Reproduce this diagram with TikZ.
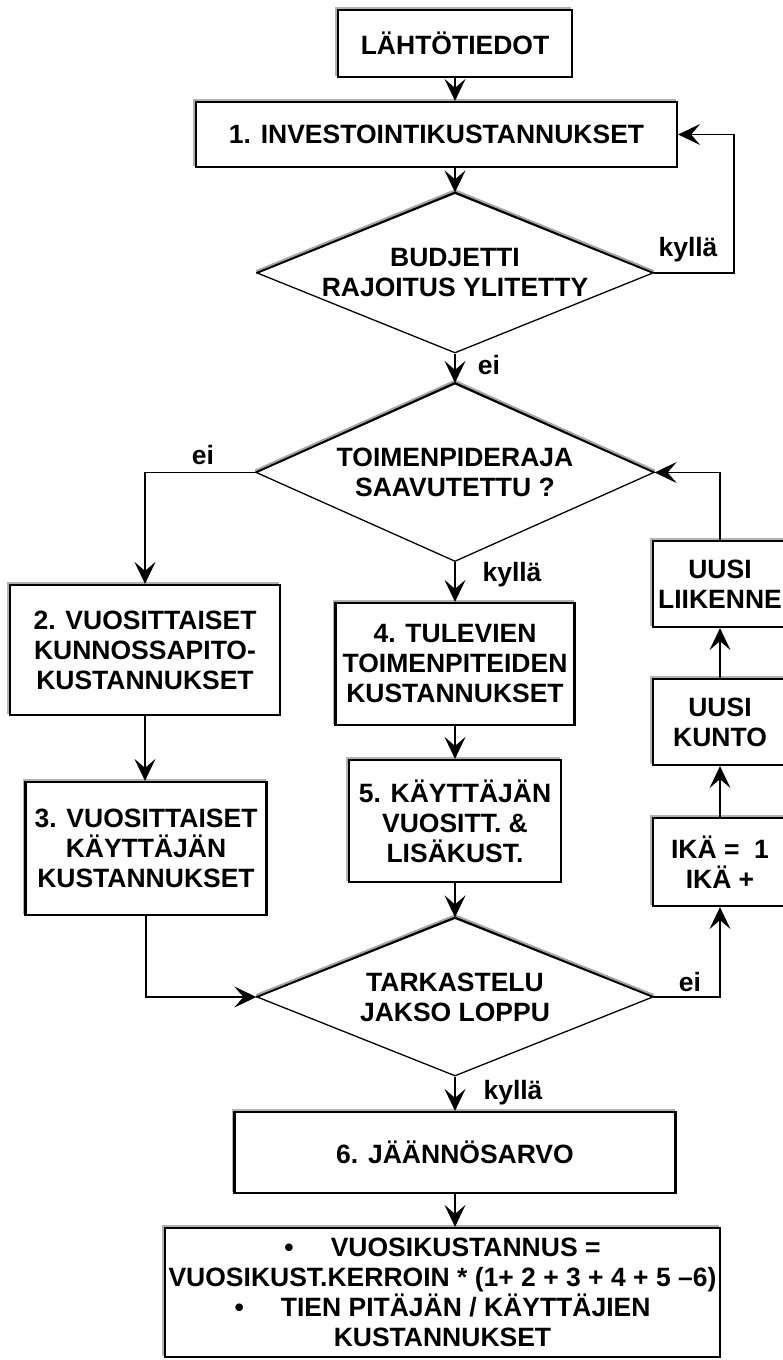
\documentclass[tikz,border=0pt]{standalone}
\usepackage{fontspec}
\setmainfont{Liberation Sans}
\usetikzlibrary{arrows.meta,shapes.geometric}

\begin{document}
\begin{tikzpicture}[x=1pt,y=1pt,
  every node/.style={font=\bfseries\fontsize{26.5}{30}\selectfont}]
\tikzset{
  boite/.style={draw, line width=2.2pt, fill=white, inner sep=0pt, align=center,
    preaction={draw=gray!60, line width=2pt, transform canvas={shift={(-2pt,2pt)}}}},
  test/.style={diamond, draw, line width=1.3pt, fill=white, inner sep=0pt,
    align=center, shape aspect=2.4},
  fleche/.style={line width=1.7pt, -{Stealth[length=22pt,width=21pt,inset=9pt]}},
}
\useasboundingbox (0,0) rectangle (783,-1360);

 % les boîtes et les tests
  \node[boite, minimum width=234pt, minimum height=67pt] (depart) at (455,-43.5) {LÄHTÖTIEDOT};
  \node[boite, minimum width=481pt, minimum height=65pt] (invest) at (436.5,-134.5) {1. INVESTOINTIKUSTANNUKSET};
  \node[test, minimum width=396pt, minimum height=160pt] (budjetti) at (455,-273) {BUDJETTI\\RAJOITUS YLITETTY};
  \node[test, minimum width=398pt, minimum height=178pt] (toimenpide) at (455,-472.5) {TOIMENPIDERAJA\\SAAVUTETTU ?};
  \node[boite, minimum width=270pt, minimum height=130pt] (vuosi2) at (145,-650) {2. VUOSITTAISET\\KUNNOSSAPITO-\\KUSTANNUKSET};
  \node[boite, minimum width=241pt, minimum height=133pt] (vuosi3) at (146,-848.5) {3. VUOSITTAISET\\KÄYTTÄJÄN\\KUSTANNUKSET};
  \node[boite, minimum width=239pt, minimum height=122pt] (tulevat4) at (455,-664) {4. TULEVIEN\\TOIMENPITEIDEN\\KUSTANNUKSET};
  \node[boite, minimum width=212pt, minimum height=122pt] (kayttaja5) at (455,-821) {5. KÄYTTÄJÄN\\VUOSITT. \&\\LISÄKUST.};
  \node[test, minimum width=396pt, minimum height=158pt] (tarkastelu) at (455,-997) {TARKASTELU\\JAKSO LOPPU};
  \node[boite, minimum width=441pt, minimum height=81pt] (jaannos6) at (455,-1152.5) {6. JÄÄNNÖSARVO};
  \node[boite, minimum width=555pt, minimum height=129pt] (vuosikust) at (442.5,-1292.5)
    {\textbullet\hspace{1.4em}VUOSIKUSTANNUS =\\VUOSIKUST.KERROIN * (1+ 2 + 3 + 4 + 5 –6)\\\textbullet\hspace{1.4em}TIEN PITÄJÄN / KÄYTTÄJIEN\\KUSTANNUKSET};
  \node[boite, minimum width=134pt, minimum height=86pt] (liikenne) at (720,-584) {UUSI\\LIIKENNE};
  \node[boite, minimum width=134pt, minimum height=86pt] (kunto) at (720,-722) {UUSI\\KUNTO};
  \node[boite, minimum width=134pt, minimum height=88pt] (ika) at (720,-862) {IKÄ =\ \ 1\\IKÄ +};

 % bords supérieurs des tests
  \foreach \d in {budjetti,toimenpide,tarkastelu}{
    \draw[gray!70, line width=3pt] ([yshift=1.5pt]\d.west) -- ([yshift=1.5pt]\d.north) -- ([yshift=1.5pt]\d.east);
    \draw[line width=1.6pt] (\d.west) -- (\d.north) -- (\d.east);
  }

 % les flèches
  \draw[fleche] (depart.south) -- (depart.south |- invest.north);
  \draw[fleche] (budjetti.north |- invest.south) -- (budjetti.north);
  \draw[fleche] (budjetti.east) -- ++(80,0) |- (invest.east);
  \draw[fleche] (budjetti.south) -- (toimenpide.north);
  \draw[fleche] (toimenpide.west) -| (vuosi2.north);
  \draw[fleche] (toimenpide.south) -- (tulevat4.north);
  \draw[fleche] (vuosi2.south) -- (vuosi2.south |- vuosi3.north);
  \draw[fleche] (vuosi3.south) |- (tarkastelu.west);
  \draw[fleche] (tulevat4.south) -- (kayttaja5.north);
  \draw[fleche] (kayttaja5.south) -- (tarkastelu.north);
  \draw[fleche] (tarkastelu.east) -| (ika.south);
  \draw[fleche] (ika.north) -- (kunto.south);
  \draw[fleche] (kunto.north) -- (liikenne.south);
  \draw[fleche] (liikenne.north) |- (toimenpide.east);
  \draw[fleche] (tarkastelu.south) -- (jaannos6.north);
  \draw[fleche] (jaannos6.south) -- (jaannos6.south |- vuosikust.north);

 % du texte
  \node (kylla1) at (688,-250) {kyllä};
  \node (ei1) at (489,-365) {ei};
  \node (ei2) at (203,-455) {ei};
  \node (kylla2) at (512,-575) {kyllä};
  \node (ei3) at (690,-982) {ei};
  \node (kylla3) at (513,-1093) {kyllä};
\end{tikzpicture}
\end{document}
